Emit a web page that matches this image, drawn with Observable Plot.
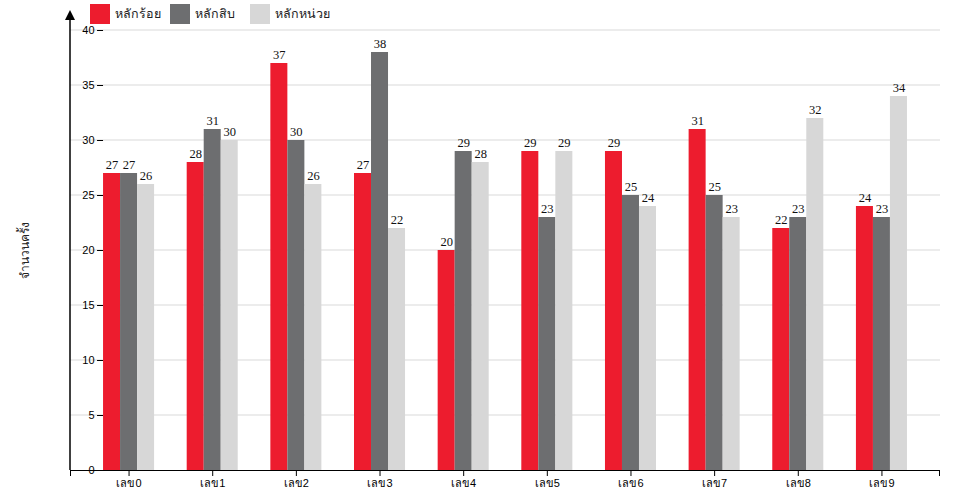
<!DOCTYPE html>
<html>
<head>
<meta charset="utf-8">
<script src="https://cdn.jsdelivr.net/npm/d3@7"></script>
<script src="https://cdn.jsdelivr.net/npm/@observablehq/plot@0.6"></script>
<style>
  body { margin: 0; background: #fff; font-family: "Liberation Sans", sans-serif; }
  #wrap { position: relative; width: 960px; height: 500px; }
  #wrap svg { position: absolute; left: 0; top: 0; }
  #legend { position: absolute; top: 4px; left: 90px; display: flex; font-size: 12.5px; color: #222; z-index: 2; }
  .item { width: 80px; display: flex; align-items: center; white-space: nowrap; }
  .sw { width: 20px; height: 20px; margin-right: 5px; flex: none; }
</style>
</head>
<body>
<div id="wrap">
  <div id="legend"></div>
</div>
<script>
const categories = ["เลข0","เลข1","เลข2","เลข3","เลข4","เลข5","เลข6","เลข7","เลข8","เลข9"];
const seriesNames = ["หลักร้อย","หลักสิบ","หลักหน่วย"];
const seriesColors = ["#ed1c2e","#6d6e70","#d7d7d7"];
const hundreds = [27,28,37,27,20,29,29,31,22,24];
const tens     = [27,31,30,38,29,23,25,25,23,23];
const units    = [26,30,26,22,28,29,24,23,32,34];
const yTicks = [0,5,10,15,20,25,30,35,40];
const yLabel = "จำนวนครั้ง";

const seriesValues = [hundreds, tens, units];
const data = [];
categories.forEach((c, i) => {
  seriesNames.forEach((s, j) => data.push({cat: c, series: s, value: seriesValues[j][i]}));
});

const W = 960, H = 500, mL = 70, mR = 20, mT = 30, mB = 30;

const chart = Plot.plot({
  width: W, height: H,
  marginLeft: mL, marginRight: mR, marginTop: mT, marginBottom: mB,
  style: {fontSize: "11px", fontFamily: "Liberation Sans, sans-serif", background: "transparent", color: "#000"},
  fx: {domain: categories, paddingInner: 0.39, paddingOuter: 0.395, round: false, axis: "bottom", tickSize: 6, tickPadding: 3, label: null},
  x: {domain: seriesNames, padding: 0, round: false, axis: null},
  y: {domain: [0, 40], ticks: yTicks, tickSize: 6, tickPadding: 3, label: null},
  color: {domain: seriesNames, range: seriesColors},
  facet: {data, x: "cat"},
  marks: [
    Plot.barY(data, {x: "series", y: "value", fill: "series"}),
    Plot.text(data, {x: "series", y: "value", text: d => String(d.value), lineAnchor: "bottom", dy: -5, fontSize: 12.5, fill: "#111", className: "vlabel"})
  ]
});

document.getElementById("wrap").appendChild(chart);

// serif value labels
d3.select(chart).selectAll(".vlabel, .vlabel text").attr("font-family", "Liberation Serif, Times New Roman, serif").style("font-family", "'Liberation Serif', 'Times New Roman', serif");

// legend
const leg = d3.select("#legend");
seriesNames.forEach((s, i) => {
  const it = leg.append("div").attr("class", "item");
  it.append("div").attr("class", "sw").style("background", seriesColors[i]);
  it.append("span").text(s);
});

// grid, axis lines, arrow, y label
const svg = d3.select(chart);
let ys;
try { const sc = chart.scale("y"); ys = sc.apply ? (v => sc.apply(v)) : null; } catch (e) { ys = null; }
if (!ys) { const s = d3.scaleLinear([0, 40], [H - mB, mT]); ys = v => s(v); }
const y0 = ys(0), yTop = ys(40);
const grid = svg.insert("g", ":first-child");
yTicks.filter(t => t > 0).forEach(t => {
  grid.append("line").attr("x1", mL).attr("x2", W - mR).attr("y1", ys(t)).attr("y2", ys(t))
    .attr("stroke", "#d9d9d9").attr("stroke-width", 1);
});
const ax = svg.append("g").attr("stroke", "#000").attr("fill", "none");
ax.append("line").attr("x1", mL).attr("x2", W - mR).attr("y1", y0 + 0.5).attr("y2", y0 + 0.5);
ax.append("line").attr("x1", mL + 0.5).attr("x2", mL + 0.5).attr("y1", y0 + 6).attr("y2", y0);
ax.append("line").attr("x1", W - mR - 0.5).attr("x2", W - mR - 0.5).attr("y1", y0 + 6).attr("y2", y0);
ax.append("line").attr("x1", mL).attr("x2", mL).attr("y1", y0).attr("y2", yTop - 12).attr("stroke-width", 1.5);
svg.append("path").attr("d", `M${mL},${yTop - 20}L${mL - 5},${yTop - 10}L${mL + 5},${yTop - 10}Z`).attr("fill", "#000");
svg.append("text").attr("transform", `translate(25,${(y0 + yTop) / 2}) rotate(-90)`)
  .attr("text-anchor", "middle").attr("dominant-baseline", "central")
  .attr("font-size", 12).attr("fill", "#222").text(yLabel);
</script>
</body>
</html>
